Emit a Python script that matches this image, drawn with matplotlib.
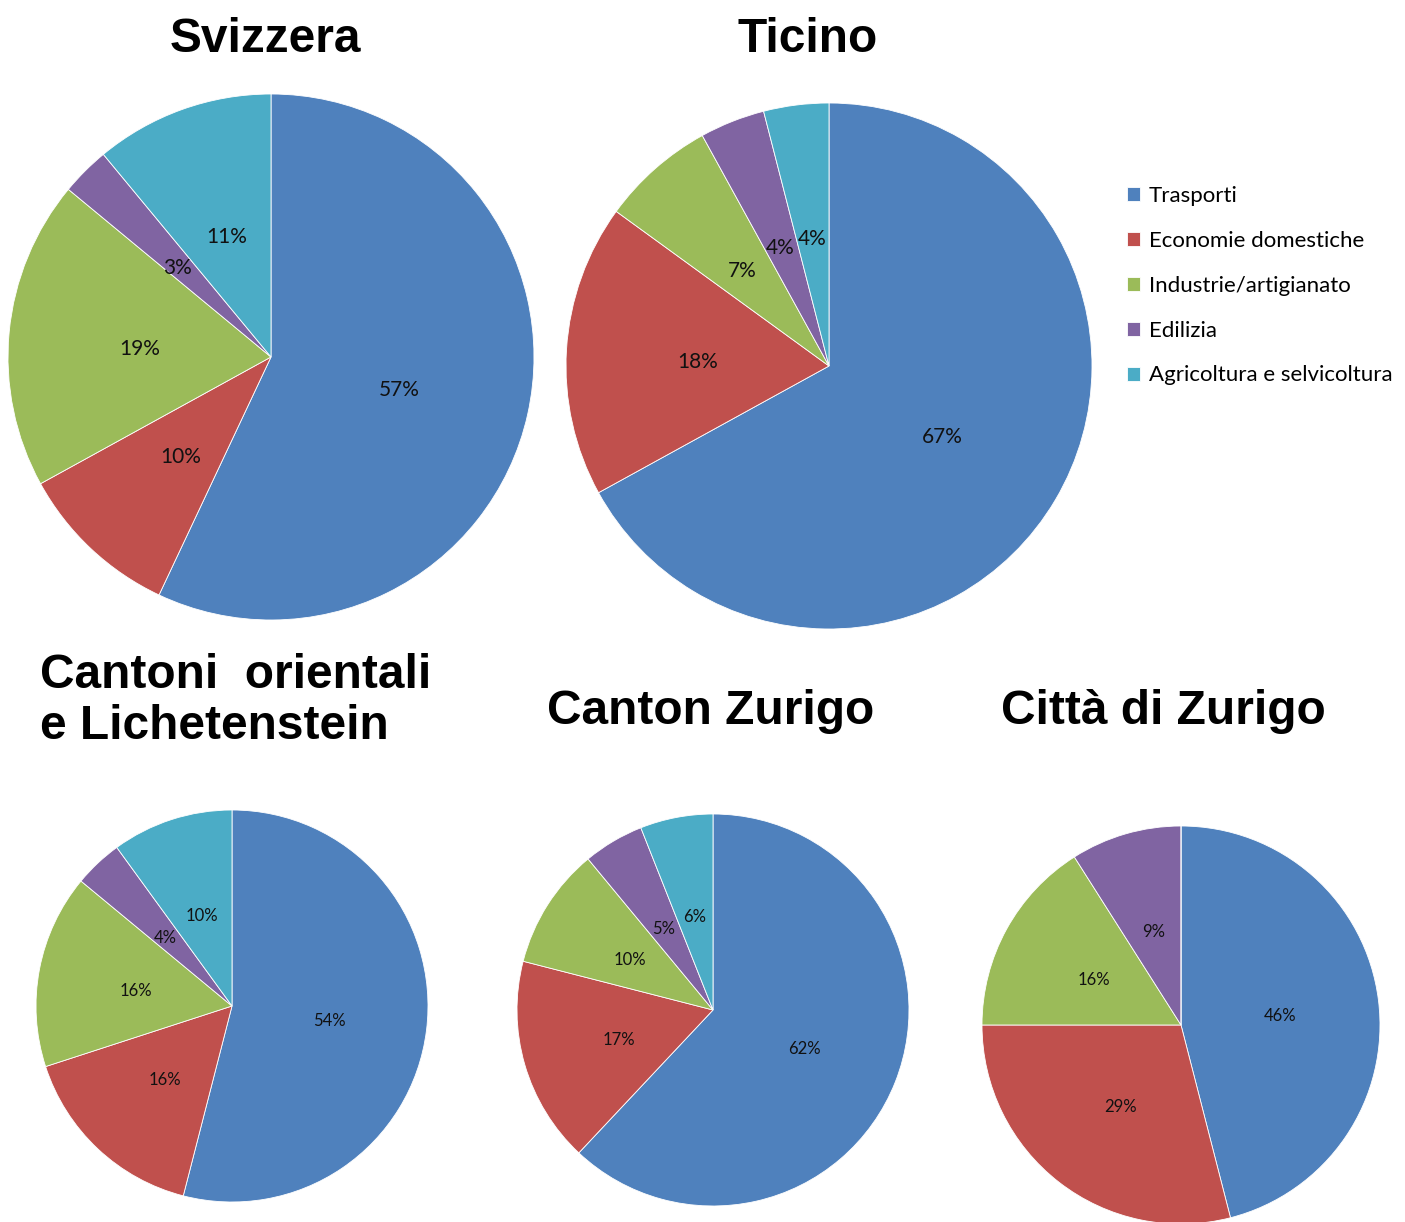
import matplotlib.pyplot as plt

W, H = 1405, 1222

categorie = ['Trasporti', 'Economie domestiche', 'Industrie/artigianato',
             'Edilizia', 'Agricoltura e selvicoltura']
colori = ['#4F81BD', '#C0504D', '#9BBB59', '#8064A2', '#4BACC6']

svizzera = [57, 10, 19, 3, 11]
ticino = [67, 18, 7, 4, 4]
cantoni_orientali = [54, 16, 16, 4, 10]
canton_zurigo = [62, 17, 10, 5, 6]
citta_zurigo = [46, 29, 16, 9, 0]

TESTO = ['Lato', 'DejaVu Sans']
TITOLO = ['Liberation Sans', 'DejaVu Sans']

fig = plt.figure(figsize=(W / 100, H / 100), dpi=100)


def torta(valori, cx, cy, r, fs):
    # asse quadrato in pixel, centrato sul centro della torta
    ax = fig.add_axes([(cx - r) / W, 1 - (cy + r) / H, 2 * r / W, 2 * r / H])
    wedges, _, autotexts = ax.pie(
        valori, colors=colori, startangle=90, counterclock=False, radius=1,
        autopct=lambda p: f'{p:.0f}%' if p >= 0.5 else '', pctdistance=0.5,
        wedgeprops=dict(edgecolor='white', linewidth=0.6),
        textprops=dict(fontsize=fs, family=TESTO, color='#111111'))
    for t in autotexts:
        x, y = t.get_position()
        t.set_position((x, y - 0.015))
    ax.set_xlim(-1, 1)
    ax.set_ylim(-1, 1)
    ax.set_aspect('equal')
    ax.axis('off')
    return wedges


def titolo(testo, x, y, ha='center'):
    fig.text(x / W, 1 - y / H, testo, ha=ha, va='center', fontsize=34.5,
             fontweight='bold', family=TITOLO, linespacing=1.17)


wedges = torta(svizzera, 271, 357, 263, 15)
torta(ticino, 829, 366, 263, 15)
torta(cantoni_orientali, 232, 1006, 196, 12)
torta(canton_zurigo, 713, 1010, 196, 12)
torta(citta_zurigo, 1181, 1025, 199, 12)

titolo('Svizzera', 265, 39)
titolo('Ticino', 808, 39)
titolo('Cantoni  orientali\ne Lichetenstein', 40, 701, ha='left')
titolo('Canton Zurigo', 711, 711)
titolo('Città di Zurigo', 1163, 711)

fig.legend(wedges, categorie, loc='upper left',
           bbox_to_anchor=(1118 / W, 1 - 177 / H), frameon=False,
           prop=dict(family=TESTO, size=16), handlelength=0.6,
           handleheight=0.6, handletextpad=0.4, labelspacing=1.12,
           borderaxespad=0)

fig.savefig('out.png', dpi=100)
